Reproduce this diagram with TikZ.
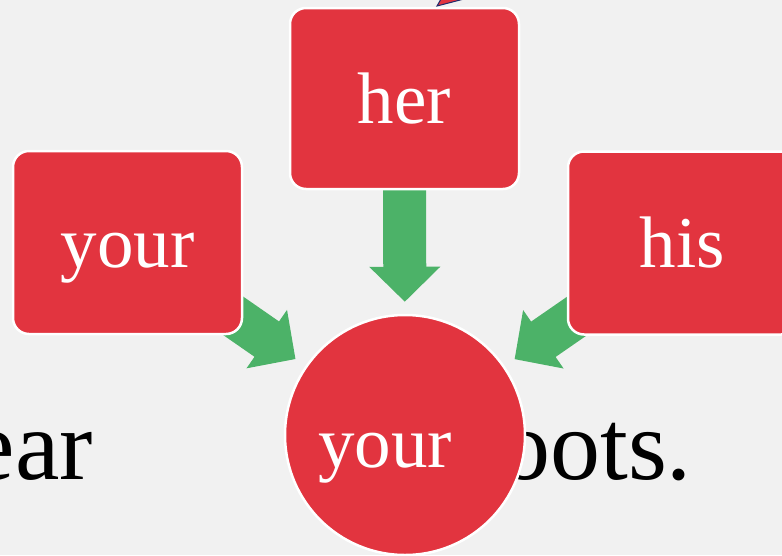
\documentclass[tikz,border=0pt]{standalone}
\usepackage{fontspec}
\setmainfont{Liberation Serif}
\usetikzlibrary{arrows.meta}
\definecolor{bgc}{HTML}{F1F1F1}
\definecolor{redc}{HTML}{E2343F}
\definecolor{greenc}{HTML}{4CB268}
\definecolor{navyc}{HTML}{1F2A6B}
\pgfdeclarelayer{bglayer}
\pgfdeclarelayer{arrlayer}
\pgfsetlayers{bglayer,arrlayer,main}
\begin{document}
\begin{tikzpicture}[x=1pt,y=-1pt,
  box/.style={draw=white, line width=2.5pt, fill=redc, rounded corners=16pt,
    minimum width=229pt, minimum height=183pt, inner sep=0pt},
  word/.style={text=white, font=\fontsize{73}{80}\selectfont, anchor=base, inner sep=0pt},
  big/.style={text=black, font=\fontsize{100}{110}\selectfont, inner sep=0pt},
  blockarrow/.style={draw=greenc, line width=43pt,
    -{Triangle[width=69pt,length=35pt]}, shorten >=12pt}]
\useasboundingbox (0,0) rectangle (782,555);
\begin{pgfonlayer}{bglayer}
  \fill[bgc] (0,0) rectangle (782,555);
\end{pgfonlayer}
% fragment at top edge
\filldraw[fill=redc, draw=navyc, line width=1pt] (437,6) -- (441,-1) -- (464,-1) -- cycle;
% boxes
\node[box] (yourbox) at (127.5,242.5) {};
\node[box, minimum height=181pt] (herbox) at (404.5,98.5) {};
\node[box] (hisbox) at (682.5,243) {};
\node[word] (yourtxt) at (127.5,267) {your};
\node[word] (hertxt) at (404.5,123) {her};
\node[word] (histxt) at (682.5,267) {his};
% sentence
\node[big, anchor=base east] (ear) at (93,479) {ear};
\node[big, anchor=base west] (boots) at (450,479) {boots.};
% circle
\node[circle, draw=white, line width=2.5pt, fill=redc, minimum size=240pt, inner sep=0pt] (circ) at (405,435) {};
\node[word] (circtxt) at (385,467) {your};
% arrows
\begin{pgfonlayer}{arrlayer}
  \draw[blockarrow] (yourbox.center) -- (circ);
  \draw[blockarrow] (herbox.center) -- (circ);
  \draw[blockarrow] (hisbox.center) -- (circ);
\end{pgfonlayer}
\end{tikzpicture}
\end{document}
